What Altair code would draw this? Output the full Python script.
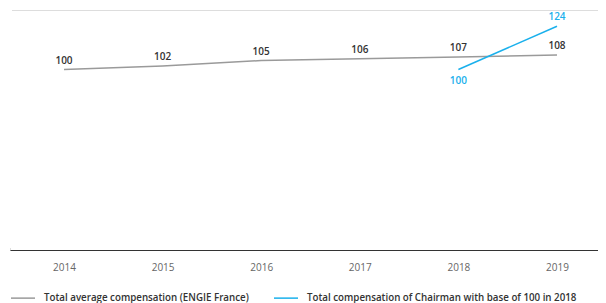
import altair as alt
import pandas as pd

years = [2014, 2015, 2016, 2017, 2018, 2019]
avg_comp = [100, 102, 105, 106, 107, 108]
chair_years = [2018, 2019]
chair_comp = [100, 124]

S1 = "Total average compensation (ENGIE France)"
S2 = "Total compensation of Chairman with base of 100 in 2018"

rows = [{"year": y, "value": v, "series": S1} for y, v in zip(years, avg_comp)]
rows += [{"year": y, "value": v, "series": S2} for y, v in zip(chair_years, chair_comp)]
df = pd.DataFrame(rows)

GRAY = "#9a9a9a"
BLUE = "#1ab0ec"
FONT = "Open Sans"

x = alt.X("year:Q", scale=alt.Scale(domain=[2013.4523, 2019.4158], nice=False, zero=False),
          axis=alt.Axis(title=None, labelAngle=0, ticks=False, domain=True, domainColor="#333333",
                        domainWidth=1, labelColor="#666666", labelFontSize=10,
                        labelFontWeight="normal",
                        labelFont=FONT, labelPadding=12, grid=False, values=years,
                        format="d", labelFlush=False, labelOverlap=False))
y = alt.Y("value:Q", scale=alt.Scale(domain=[0, 133], nice=False, zero=True), axis=None)

color = alt.Color("series:N", scale=alt.Scale(domain=[S1, S2], range=[GRAY, BLUE]),
                  legend=alt.Legend(title=None, orient="none", legendX=0, legendY=275,
                                    direction="horizontal", symbolType="stroke",
                                    symbolSize=576, symbolStrokeWidth=1.5,
                                    labelFont=FONT, labelFontSize=9.75, labelFontWeight=600,
                                    labelColor="#333333", labelOffset=8, columnPadding=22,
                                    labelLimit=400, padding=0))

base = alt.Chart(df)
lines = base.mark_line(strokeWidth=1.5).encode(x=x, y=y, color=color, detail="series:N")

cover = alt.Chart(df).mark_rule(color="white", strokeWidth=4).encode(
    x=alt.value(0), y=alt.value(0), y2=alt.value(238))

text_gray = base.transform_filter(alt.datum.series == S1).mark_text(
    dy=-9, fontSize=10, font=FONT, fontWeight=600, color="#333333", baseline="middle"
).encode(x=x, y=y, text="value:Q")
text_b1 = base.transform_filter((alt.datum.series == S2) & (alt.datum.year == 2018)).mark_text(
    dy=11, fontSize=10, font=FONT, fontWeight=600, color=BLUE, baseline="middle"
).encode(x=x, y=y, text="value:Q")
text_b2 = base.transform_filter((alt.datum.series == S2) & (alt.datum.year == 2019)).mark_text(
    dy=-9, fontSize=10, font=FONT, fontWeight=600, color=BLUE, baseline="middle"
).encode(x=x, y=y, text="value:Q")

chart = alt.layer(lines, cover, text_gray, text_b1, text_b2).properties(
    width=588, height=240,
    padding={"left": 2, "top": 2, "right": 0, "bottom": 53},
    autosize=alt.AutoSizeParams(type="none"),
).configure_view(stroke="transparent", strokeWidth=0).configure(
    font=FONT
).configure_axisY(domain=False, labels=False, ticks=False, grid=False)

chart.save("out.html", embed_options={"renderer": "svg", "actions": False})
